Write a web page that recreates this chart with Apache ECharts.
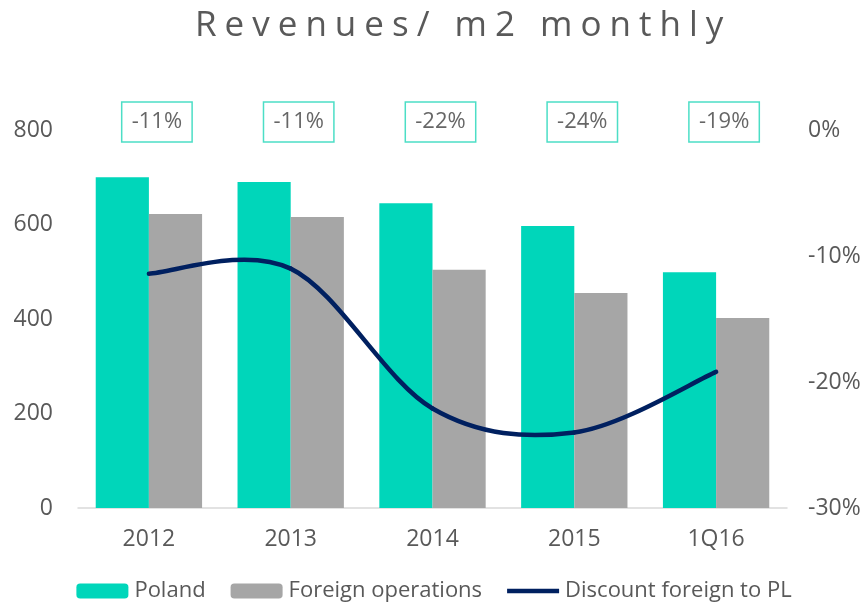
<!DOCTYPE html>
<html>
<head>
<meta charset="utf-8">
<script src="https://cdn.jsdelivr.net/npm/echarts@6/dist/echarts.min.js"></script>
<style>
    html, body { margin: 0; padding: 0; background: #fff; }
    #chart { width: 868px; height: 603px; }
</style>
</head>
<body>
<div id="chart"></div>
<script>
var titleText = 'Revenues/ m2 monthly';
var categories = ['2012', '2013', '2014', '2015', '1Q16'];
var poland = [700, 690, 645, 597, 499];
var foreign = [622, 616, 504, 455, 402];
// discount foreign to PL, in %
var discount = [-11.4, -11.0, -22.1, -24.0, -19.2];
var leftTicks = [0, 200, 400, 600, 800];
var rightTicks = [-30, -20, -10, 0];

var fontFam = '"Open Sans", sans-serif';
var grey = '#595959';
var navy = '#002060';

// title spread out like the original (letter spaced)
var spacedTitle = titleText.split('').map(function (c) {
    return '{s|' + c + '}';
}).join('');

// smooth line like excel: catmull-rom segment from point i to i+1
function renderSmooth(params, api) {
    var i = params.dataIndex;
    var n = discount.length;
    if (i >= n - 1) return null;
    var pt = function (k) {
        k = Math.max(0, Math.min(n - 1, k));
        return api.coord([k, discount[k]]);
    };
    var p0 = pt(i - 1), p1 = pt(i), p2 = pt(i + 1), p3 = pt(i + 2);
    var c1 = [p1[0] + (p2[0] - p0[0]) / 6, p1[1] + (p2[1] - p0[1]) / 6];
    var c2 = [p2[0] - (p3[0] - p1[0]) / 6, p2[1] - (p3[1] - p1[1]) / 6];
    return {
        type: 'bezierCurve',
        shape: {
            x1: p1[0], y1: p1[1],
            cpx1: c1[0], cpy1: c1[1],
            cpx2: c2[0], cpy2: c2[1],
            x2: p2[0], y2: p2[1]
        },
        style: { stroke: navy, lineWidth: 4.5, fill: null, lineCap: 'round' }
    };
}

var myChart = echarts.init(document.getElementById('chart'));
var option = {
    animation: false,
    title: {
        text: spacedTitle,
        left: 186,
        top: 4,
        textStyle: {
            rich: {
                s: {
                    fontFamily: fontFam,
                    fontSize: 35,
                    fontWeight: 'normal',
                    color: grey,
                    padding: [0, 4]
                }
            }
        }
    },
    legend: {
        data: [
            { name: 'Poland' },
            { name: 'Foreign operations' },
            { name: 'Discount foreign to PL', icon: 'path://M0,0 L56,0 L56,5 L0,5 Z' }
        ],
        top: 575,
        left: 'center',
        itemWidth: 52,
        itemHeight: 15,
        itemGap: 25,
        textStyle: { fontFamily: fontFam, fontSize: 22, color: grey, padding: [0, 0, 0, 1] }
    },
    grid: {
        left: 78,
        right: 81,
        top: 130,
        bottom: 95
    },
    xAxis: {
        type: 'category',
        data: categories,
        axisTick: { show: false },
        axisLine: { lineStyle: { color: '#d9d9d9', width: 1.5 } },
        axisLabel: { color: grey, fontFamily: fontFam, fontSize: 23, margin: 20 }
    },
    yAxis: [
        {
            type: 'value',
            min: leftTicks[0],
            max: leftTicks[leftTicks.length - 1],
            interval: 200,
            splitLine: { show: false },
            axisLine: { show: false },
            axisTick: { show: false },
            axisLabel: { color: grey, fontFamily: fontFam, fontSize: 23, margin: 25 }
        },
        {
            type: 'value',
            min: rightTicks[0],
            max: rightTicks[rightTicks.length - 1],
            interval: 10,
            splitLine: { show: false },
            axisLine: { show: false },
            axisTick: { show: false },
            axisLabel: {
                color: grey, fontFamily: fontFam, fontSize: 23, margin: 21,
                formatter: '{value}%'
            }
        }
    ],
    series: [
        {
            name: 'Poland',
            type: 'bar',
            data: poland,
            barGap: '0%',
            barCategoryGap: '25%',
            itemStyle: { color: '#00d6ba' }
        },
        {
            name: 'Foreign operations',
            type: 'bar',
            data: foreign,
            itemStyle: { color: '#a6a6a6' }
        },
        {
            name: 'Discount foreign to PL',
            type: 'custom',
            yAxisIndex: 1,
            renderItem: renderSmooth,
            data: discount,
            itemStyle: { color: navy },
            clip: false,
            z: 5
        },
        {
            // boxed discount labels along the top
            name: 'labels',
            type: 'scatter',
            yAxisIndex: 1,
            data: discount.map(function () { return 0; }),
            symbolSize: 0,
            silent: true,
            label: {
                show: true,
                position: 'inside',
                offset: [8, -8],
                formatter: function (p) {
                    return Math.round(discount[p.dataIndex]) + '%';
                },
                fontFamily: fontFam,
                fontSize: 22,
                lineHeight: 26,
                color: '#404040',
                borderColor: '#1fd6b8',
                borderWidth: 1.5,
                padding: [7, 10, 7, 10]
            }
        }
    ]
};
myChart.setOption(option);
</script>
</body>
</html>
